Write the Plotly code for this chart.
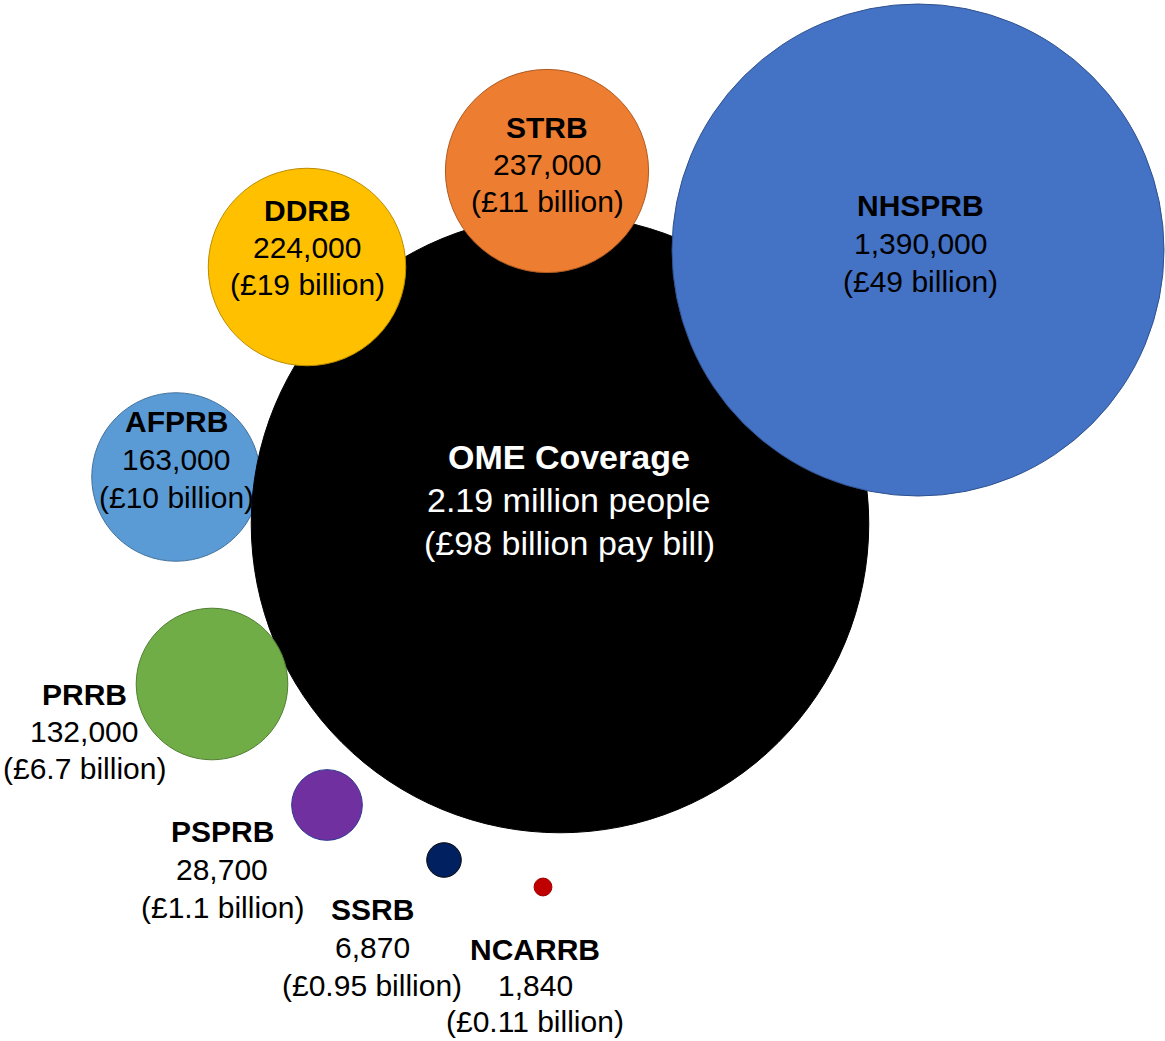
import plotly.graph_objects as go

# ---- data ----
boards = ["OME Coverage", "NHSPRB", "STRB", "DDRB", "AFPRB", "PRRB", "PSPRB", "SSRB", "NCARRB"]
people = [2190000, 1390000, 237000, 224000, 163000, 132000, 28700, 6870, 1840]
people_labels = ["2.19 million people", "1,390,000", "237,000", "224,000", "163,000",
                 "132,000", "28,700", "6,870", "1,840"]
pay_bill_labels = ["(£98 billion pay bill)", "(£49 billion)", "(£11 billion)", "(£19 billion)",
                   "(£10 billion)", "(£6.7 billion)", "(£1.1 billion)", "(£0.95 billion)",
                   "(£0.11 billion)"]

# ---- layout (pixel canvas coordinates) ----
cx = [560, 918, 547, 307, 176, 212, 327, 444, 543]
cy = [524, 250, 171, 267, 477, 684, 805, 860, 887]
fill = ["#000000", "#4472C4", "#ED7D31", "#FFC000", "#5B9BD5", "#70AD47", "#7030A0", "#002060", "#C00000"]
edge = ["#000000", "#2F528F", "#AE5A21", "#BC8C00", "#41719C", "#507E32", "#2F3A8F", "#0A0A0A", "#A00000"]
label_x = [569, 920, 547, 307, 176, 84, 222, 372, 535]
label_y = [500, 243, 164, 247, 459, 731, 869, 947, 985]
line_gap = [43, 38, 37, 37, 38, 37, 38, 38, 36]
text_color = ["#FFFFFF", "#000000", "#000000", "#000000", "#000000", "#000000", "#000000", "#000000", "#000000"]
font_size = [34, 30, 30, 30, 30, 30, 30, 30, 30]
draw_order = [4, 0, 1, 2, 3, 5, 6, 7, 8]

W, H = 1165, 1041
# bubble area proportional to people; NHSPRB radius ~246 px
sizeref = people[1] / (2 * 246 ** 2)

fig = go.Figure()
fig.add_trace(go.Scatter(
    x=[cx[i] for i in draw_order],
    y=[cy[i] for i in draw_order],
    mode="markers",
    marker=dict(
        size=[people[i] for i in draw_order],
        sizemode="area",
        sizeref=sizeref,
        color=[fill[i] for i in draw_order],
        line=dict(color=[edge[i] for i in draw_order], width=1),
        opacity=1,
    ),
    hoverinfo="skip",
    cliponaxis=False,
))

FONT = "Liberation Sans, Arial, sans-serif"
for i in range(len(boards)):
    lines = [f"<b>{boards[i]}</b>", people_labels[i], pay_bill_labels[i]]
    for k, t in enumerate(lines):
        fig.add_annotation(
            x=label_x[i], y=label_y[i] + (k - 1) * line_gap[i],
            xref="x", yref="y", text=t, showarrow=False,
            xanchor="center", yanchor="middle", borderpad=0,
            font=dict(family=FONT, size=font_size[i], color=text_color[i]),
        )

fig.update_layout(
    width=W, height=H,
    margin=dict(l=0, r=0, t=0, b=0),
    paper_bgcolor="white", plot_bgcolor="white",
    showlegend=False, hovermode=False,
    xaxis=dict(range=[0, W], visible=False, fixedrange=True),
    yaxis=dict(range=[H, 0], visible=False, fixedrange=True),
)

fig.write_html("out.html")
